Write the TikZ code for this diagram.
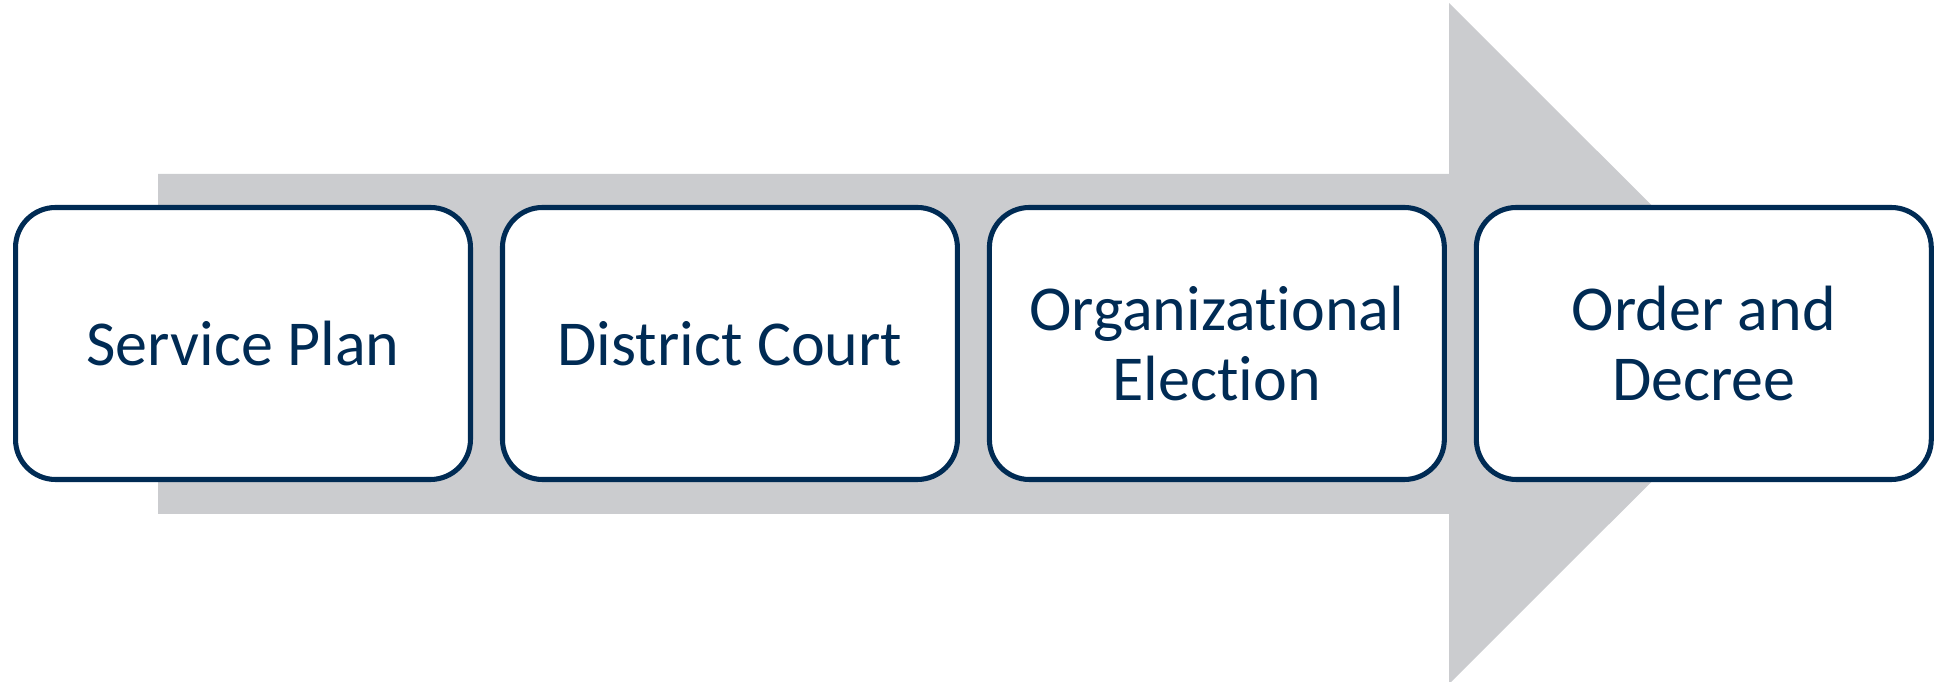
\documentclass[tikz,border=0pt]{standalone}
\usepackage{fontspec}
\setmainfont{Carlito}[Ligatures=NoCommon]
\usepackage{tikz}
\usetikzlibrary{positioning}
\definecolor{navy}{HTML}{002B54}
\definecolor{arrowgray}{HTML}{CBCCCF}
\tikzset{stage/.style = {draw=navy, line width=1.9pt, fill=white, rounded corners=15pt, minimum width=170.6pt, minimum height=102pt, outer sep=0, inner sep=0, align=center, text=navy, font=\fontsize{24}{26}\selectfont}}

\begin{document}
\begin{tikzpicture}[x=0.375pt,y=-0.375pt,node distance=12pt]
        \useasboundingbox (0,0) rectangle (1934,682);
        \fill [arrowgray] (158,174) -- (1449,174) -- (1449,3) -- (1790,343.5) -- (1449,684) -- (1449,514) -- (158,514) -- cycle;
        \node [stage] (plan) at (243,343.5) {Service Plan};
        \node [stage, right=of plan] (court) {District Court};
        \node [stage, right=of court] (election) {Organizational\\Election};
        \node [stage, right=of election] (decree) {Order and\\Decree};
    \end{tikzpicture}
\end{document}
